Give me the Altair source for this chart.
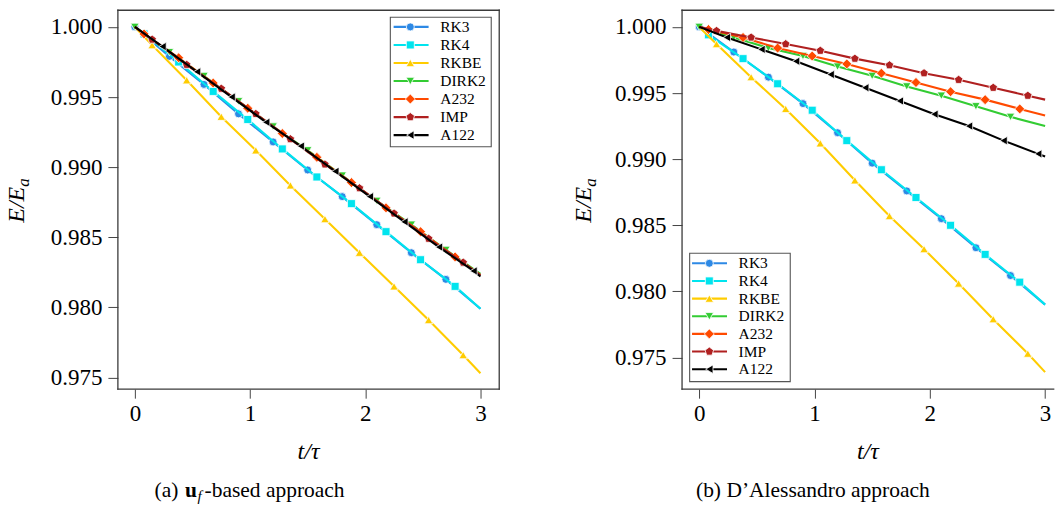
import altair as alt
import pandas as pd

FONT = "Liberation Serif"

SERIES = ["RK3", "RK4", "RKBE", "DIRK2", "A232", "IMP", "A122"]
COLORS = ["#2d89e5", "#00e4ee", "#ffcc00", "#33cc33", "#ff4a00", "#b02020", "#000000"]
PENTAGON = "M0,-1L0.951,-0.309L0.588,0.809L-0.588,0.809L-0.951,-0.309Z"
SHAPES = ["circle", "square", "triangle-up", "triangle-down", "diamond", PENTAGON, "triangle-left"]
SIZES = [64, 64, 72, 72, 100, 80, 72]

# sample times (first = 0, last = 3) for each series
T_A = [0.0, 0.3, 0.6, 0.9, 1.2, 1.5, 1.8, 2.1, 2.4, 2.7, 3.0]
T_B = [0.0, 0.08, 0.38, 0.68, 0.98, 1.28, 1.58, 1.88, 2.18, 2.48, 2.78, 3.0]
T_C = [0.0, 0.15, 0.45, 0.75, 1.05, 1.35, 1.65, 1.95, 2.25, 2.55, 2.85, 3.0]
T_D = [0.0, 0.24, 0.54, 0.84, 1.14, 1.44, 1.74, 2.04, 2.34, 2.64, 2.94, 3.0]
TIMES = {"RK3": T_A, "RK4": T_B, "RKBE": T_C, "DIRK2": T_A, "A232": T_B, "IMP": T_C, "A122": T_D}
FIRST_MARKED = {"RK3": True, "RK4": False, "RKBE": False, "DIRK2": True, "A232": False, "IMP": False, "A122": False}

# (a) u_f-based approach
LEFT_RK3 = [1.0, 0.9979, 0.9959, 0.9938, 0.9918, 0.9898, 0.9879, 0.9859, 0.9839, 0.9820, 0.9799]
LEFT_RK4 = [1.0, 0.9995, 0.9975, 0.9954, 0.9934, 0.9913, 0.9893, 0.9874, 0.9854, 0.9834, 0.9815, 0.9799]
LEFT_RKBE = [1.0, 0.9987, 0.9962, 0.9936, 0.9912, 0.9887, 0.9863, 0.9839, 0.9815, 0.9791, 0.9766, 0.9753]
LEFT_DIRK2 = [1.0, 0.9982, 0.9965, 0.9947, 0.9929, 0.9912, 0.9894, 0.9876, 0.9859, 0.9841, 0.9824]
LEFT_A232 = [1.0, 0.9995, 0.9978, 0.9960, 0.9942, 0.9924, 0.9907, 0.9889, 0.9871, 0.9854, 0.9836, 0.9823]
LEFT_IMP = [1.0, 0.9991, 0.9973, 0.9956, 0.9938, 0.9920, 0.9902, 0.9885, 0.9867, 0.9849, 0.9832, 0.9823]
LEFT_A122 = [1.0, 0.9986, 0.9968, 0.9950, 0.9932, 0.9915, 0.9897, 0.9879, 0.9861, 0.9843, 0.9826, 0.9822]

# (b) D'Alessandro approach
RIGHT_RK3 = [1.0, 0.9981, 0.9962, 0.9942, 0.9920, 0.9897, 0.9876, 0.9855, 0.9833, 0.9812, 0.9790]
RIGHT_RK4 = [1.0, 0.9994, 0.9976, 0.9957, 0.9937, 0.9914, 0.9892, 0.9871, 0.9850, 0.9828, 0.9807, 0.9790]
RIGHT_RKBE = [1.0, 0.9987, 0.9962, 0.9938, 0.9912, 0.9884, 0.9857, 0.9832, 0.9806, 0.9779, 0.9753, 0.9739]
RIGHT_DIRK2 = [1.0, 0.9992, 0.9984, 0.9978, 0.9970, 0.9963, 0.9955, 0.9948, 0.9940, 0.9932, 0.9925]
RIGHT_A232 = [1.0, 0.9998, 0.9992, 0.9984, 0.9978, 0.9972, 0.9965, 0.9958, 0.9951, 0.9945, 0.9938, 0.9933]
RIGHT_IMP = [1.0, 0.9997, 0.9992, 0.9987, 0.9982, 0.9976, 0.9971, 0.9965, 0.9960, 0.9954, 0.9948, 0.9945]
RIGHT_A122 = [1.0, 0.9992, 0.9983, 0.9974, 0.9964, 0.9954, 0.9944, 0.9934, 0.9925, 0.9914, 0.9904, 0.9902]

LEFT = dict(zip(SERIES, [LEFT_RK3, LEFT_RK4, LEFT_RKBE, LEFT_DIRK2, LEFT_A232, LEFT_IMP, LEFT_A122]))
RIGHT = dict(zip(SERIES, [RIGHT_RK3, RIGHT_RK4, RIGHT_RKBE, RIGHT_DIRK2, RIGHT_A232, RIGHT_IMP, RIGHT_A122]))

X_TICKS = [0, 1, 2, 3]
Y_TICKS = [0.975, 0.980, 0.985, 0.990, 0.995, 1.000]


def build(vals):
    rows = []
    for s in SERIES:
        ts = TIMES[s]
        es = vals[s]
        n = len(ts)
        for i, (t, e) in enumerate(zip(ts, es)):
            marked = (i < n - 1) and (i > 0 or FIRST_MARKED[s])
            rows.append({"series": s, "t": t, "E": e, "m": marked})
    return pd.DataFrame(rows)


ONE = pd.DataFrame({"k": [0]})


def txt(text, x, y, size, style="normal", weight="normal", angle=0, align="left", baseline="alphabetic"):
    kw = dict(text=text, font=FONT, fontSize=size, fontStyle=style, fontWeight=weight,
              align=align, baseline=baseline, color="black")
    if angle:
        kw["angle"] = angle
    return alt.Chart(ONE).mark_text(**kw).encode(x=alt.value(x), y=alt.value(y))


def panel(vals, xdom, ydom, W, H, leg, caption, ytx, anchor=False, right_border=True):
    df = build(vals)
    xs = alt.Scale(domain=xdom, nice=False, zero=False)
    ys = alt.Scale(domain=ydom, nice=False, zero=False)
    xaxis = alt.Axis(values=X_TICKS, format="d", title=None, grid=False, domain=False,
                     tickSize=9, tickColor="#444", tickWidth=1, labelFont=FONT,
                     labelFontSize=23, labelColor="black", labelPadding=4)
    yaxis = alt.Axis(values=Y_TICKS, format=".3f", title=None, grid=False, domain=False,
                     tickSize=10, tickColor="#444", tickWidth=1, labelFont=FONT,
                     labelFontSize=23, labelColor="black", labelPadding=6)
    layers = []
    for s, c, shp, sz in zip(SERIES, COLORS, SHAPES, SIZES):
        sub = df[df.series == s]
        base = alt.Chart(sub).encode(x=alt.X("t:Q", scale=xs, axis=xaxis),
                                     y=alt.Y("E:Q", scale=ys, axis=yaxis))
        layers.append(base.mark_line(color=c, strokeWidth=2.1))
        msub = sub[sub.m]
        layers.append(alt.Chart(msub).mark_point(shape=shp, filled=True, fill=c, size=sz,
                                                 stroke="white", strokeWidth=0.8, opacity=1)
                      .encode(x=alt.X("t:Q", scale=xs, axis=xaxis),
                              y=alt.Y("E:Q", scale=ys, axis=yaxis)))
    fc = "#3a3a3a"
    fw = 1.3
    layers.append(alt.Chart(ONE).mark_rule(color=fc, strokeWidth=fw, strokeCap="square")
                  .encode(x=alt.value(0), x2=alt.value(W), y=alt.value(0)))
    layers.append(alt.Chart(ONE).mark_rule(color=fc, strokeWidth=fw, strokeCap="square")
                  .encode(x=alt.value(0), x2=alt.value(W), y=alt.value(H)))
    layers.append(alt.Chart(ONE).mark_rule(color=fc, strokeWidth=fw, strokeCap="square")
                  .encode(x=alt.value(0), y=alt.value(0), y2=alt.value(H)))
    if right_border:
        layers.append(alt.Chart(ONE).mark_rule(color=fc, strokeWidth=fw, strokeCap="square")
                      .encode(x=alt.value(W), y=alt.value(0), y2=alt.value(H)))
    # axis titles
    layers.append(txt("E/E", ytx, 212.7, 24, style="italic", angle=270))
    layers.append(txt("a", ytx + 5, 176.7, 17, style="italic", angle=270))
    layers.append(txt("t/τ", W / 2, 449, 24, style="italic", align="center"))
    # caption
    for part in caption:
        layers.append(txt(**part))
    if anchor:
        layers.append(alt.Chart(ONE).mark_rule(strokeOpacity=0, strokeWidth=0.01)
                      .encode(x=alt.value(-117.3), x2=alt.value(-116.3), y=alt.value(-10)))
    data_layer = alt.layer(*layers)

    # legend drawn inside the axes
    legdf = pd.DataFrame({"series": SERIES, "col": COLORS, "shp": SHAPES, "sz": SIZES})
    yl = alt.Y("series:N", sort=SERIES,
               scale=alt.Scale(type="point", domain=SERIES, range=leg["rows"], padding=0),
               axis=None)
    box = alt.Chart(ONE).mark_rect(fill="white", stroke="#555", strokeWidth=1.1).encode(
        x=alt.value(leg["box"][0]), x2=alt.value(leg["box"][1]),
        y=alt.value(leg["box"][2]), y2=alt.value(leg["box"][3]))
    llines = alt.Chart(legdf).mark_rule(strokeWidth=2.1).encode(
        y=yl, x=alt.value(leg["line"][0]), x2=alt.value(leg["line"][1]),
        color=alt.Color("col:N", scale=None))
    lmarks = alt.Chart(legdf).mark_point(filled=True, opacity=1, stroke="white", strokeWidth=0.8).encode(
        y=yl, x=alt.value(leg["mark"]), fill=alt.Fill("col:N", scale=None),
        shape=alt.Shape("shp:N", scale=None), size=alt.Size("sz:Q", scale=None))
    ltext = alt.Chart(legdf).mark_text(align="left", baseline="middle", font=FONT,
                                       fontSize=15.5, color="black").encode(
        y=yl, x=alt.value(leg["text"]), text="series:N")
    leg_layer = alt.layer(box, llines, lmarks, ltext)

    return alt.layer(data_layer, leg_layer).resolve_scale(y="independent").properties(
        width=W, height=H, view=alt.ViewBackground(stroke=None))


H = 379.3
WL = 381.7
WR = 372.0

left_caption = [
    dict(text="(a)", x=36.7, y=487, size=21.5),
    dict(text="u", x=67.2, y=487, size=21.5, weight="bold"),
    dict(text="f", x=79.7, y=491, size=15, style="italic"),
    dict(text="-based approach", x=86.7, y=487, size=21.5),
]
right_caption = [
    dict(text="(b) D\u2019Alessandro approach", x=130.9, y=487, size=21.5, align="center"),
]

left = panel(LEFT, [-0.1474, 3.163], [0.97417, 1.00119], WL, H,
             dict(rows=[16.7, 125.0], box=[272.7, 373.7, 7, 136.7], line=[276, 311], mark=292.7, text=322.7),
             left_caption, ytx=-94, anchor=True)
right = panel(RIGHT, [-0.149, -0.149 + WR / 115.4], [0.97261, 1.00126], WR, H,
              dict(rows=[253.3, 359.3], box=[7.6, 108.3, 243.3, 371.7], line=[10, 45], mark=27.3, text=56.6),
              right_caption, ytx=-91, right_border=False)

chart = alt.hconcat(left, right, spacing=182.7, bounds="flush").properties(
    padding={"left": 0, "top": 0, "right": 0, "bottom": 0},
    background="white",
).configure_view(stroke=None)

chart.save("out.html", embed_options={"renderer": "svg", "actions": False})
